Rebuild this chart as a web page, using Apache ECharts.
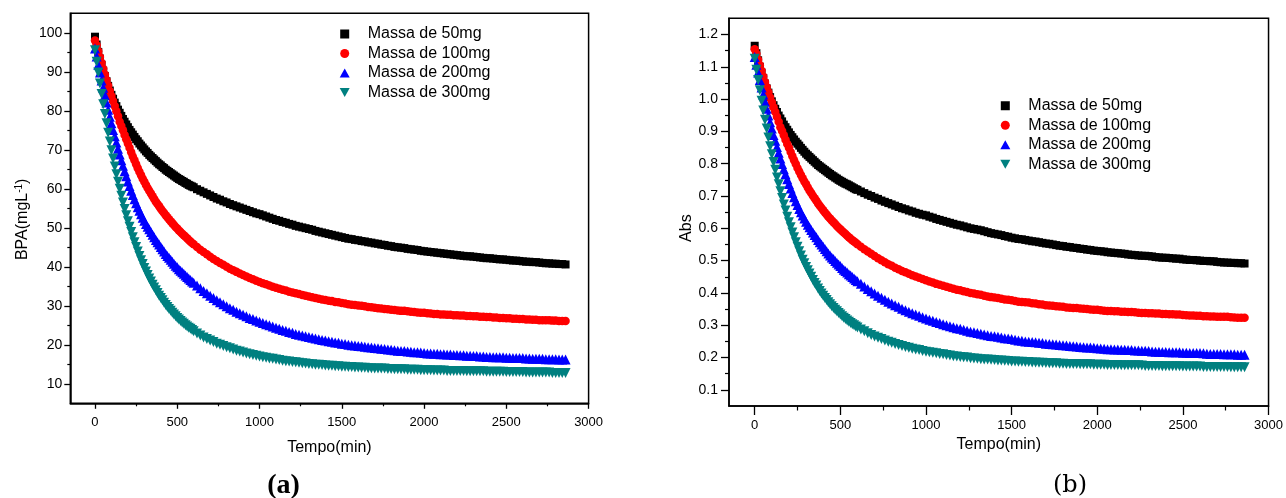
<!DOCTYPE html>
<html><head><meta charset="utf-8">
<script src="https://cdn.jsdelivr.net/npm/echarts@6/dist/echarts.min.js"></script>
<style>html,body{margin:0;padding:0;background:#fff}#c{width:1286px;height:498px}</style>
</head><body><div id="c"></div>
<script>
const time = [0,10,20,30,40,50,60,70,80,90,100,110,120,130,140,150,160,170,180,190,200,
210,220,230,240,250,260,270,280,290,300,310,320,330,340,350,360,370,380,390,400,
410,420,430,440,450,460,470,480,490,500,510,520,530,540,550,560,570,580,590,600,
620,640,660,680,700,720,740,760,780,800,820,840,860,880,900,920,940,960,980,1000,
1020,1040,1060,1080,1100,1120,1140,1160,1180,1200,
1220,1240,1260,1280,1300,1320,1340,1360,1380,1400,
1420,1440,1460,1480,1500,1520,1540,1560,1580,1600,
1620,1640,1660,1680,1700,1720,1740,1760,1780,1800,
1820,1840,1860,1880,1900,1920,1940,1960,1980,2000,
2020,2040,2060,2080,2100,2120,2140,2160,2180,2200,
2220,2240,2260,2280,2300,2320,2340,2360,2380,2400,
2420,2440,2460,2480,2500,2520,2540,2560,2580,2600,
2620,2640,2660,2680,2700,2720,2740,2760,2780,2800,
2820,2840,2860];

const seriesNames = ['Massa de 50mg','Massa de 100mg','Massa de 200mg','Massa de 300mg'];

// (a) BPA (mg L-1)
const bpa50 = [99.0,97.0,95.1,93.4,91.8,90.3,88.9,87.6,86.4,85.2,84.1,83.1,82.1,81.2,80.3,79.5,78.7,77.9,77.2,76.5,75.8,
75.1,74.5,73.9,73.3,72.7,72.2,71.6,71.1,70.6,70.1,69.6,69.2,68.7,68.3,67.9,67.5,67.1,66.7,66.3,66.0,
65.6,65.3,64.9,64.6,64.3,64.0,63.7,63.4,63.1,62.8,62.5,62.3,62.0,61.8,61.5,61.3,61.0,60.8,60.6,60.4,
59.9,59.5,59.1,58.7,58.3,57.9,57.5,57.2,56.8,56.5,56.1,55.8,55.5,55.2,54.9,54.6,54.3,54.0,53.7,53.5,
53.2,52.9,52.6,52.3,52.0,51.8,51.5,51.3,51.0,50.8,
50.5,50.3,50.1,49.9,49.7,49.5,49.2,49.0,48.8,48.6,
48.4,48.2,48.0,47.8,47.6,47.4,47.2,47.1,46.9,46.8,
46.6,46.5,46.3,46.2,46.0,45.9,45.7,45.6,45.4,45.3,
45.1,45.0,44.9,44.8,44.6,44.5,44.4,44.3,44.1,44.0,
43.9,43.8,43.7,43.6,43.5,43.4,43.3,43.2,43.1,43.0,
42.9,42.8,42.7,42.7,42.6,42.5,42.4,42.3,42.2,42.2,
42.1,42.0,41.9,41.9,41.8,41.7,41.6,41.6,41.5,41.4,
41.3,41.3,41.2,41.2,41.1,41.0,40.9,40.9,40.8,40.8,
40.7,40.7,40.6];
const bpa100 = [98.0,96.8,95.3,93.8,92.3,90.8,89.3,87.9,86.5,85.1,83.8,82.5,81.2,79.9,78.6,77.2,76.1,75.0,73.8,72.7,71.6,
70.5,69.4,68.3,67.3,66.3,65.3,64.4,63.5,62.6,61.8,61.0,60.2,59.5,58.8,58.1,57.4,56.7,56.1,55.5,54.9,
54.3,53.8,53.2,52.7,52.2,51.7,51.2,50.7,50.2,49.8,49.3,48.9,48.5,48.1,47.7,47.3,46.9,46.5,46.1,45.8,
45.1,44.4,43.8,43.2,42.6,42.0,41.5,41.0,40.5,40.0,39.5,39.1,38.7,38.3,37.9,37.5,37.1,36.8,36.4,36.1,
35.8,35.5,35.2,34.9,34.6,34.4,34.1,33.9,33.6,33.4,
33.2,33.0,32.8,32.6,32.4,32.2,32.0,31.8,31.6,31.5,
31.3,31.2,31.0,30.9,30.7,30.6,30.4,30.3,30.2,30.1,
30.0,29.9,29.7,29.6,29.5,29.4,29.3,29.2,29.1,29.0,
28.9,28.8,28.7,28.7,28.6,28.5,28.4,28.3,28.2,28.2,
28.1,28.0,27.9,27.9,27.8,27.8,27.7,27.7,27.6,27.6,
27.5,27.5,27.4,27.4,27.3,27.3,27.2,27.2,27.1,27.1,
27.0,27.0,26.9,26.9,26.8,26.8,26.7,26.7,26.6,26.6,
26.5,26.5,26.4,26.4,26.3,26.3,26.3,26.3,26.2,26.2,
26.1,26.1,26.1];
const bpa200 = [96.0,93.9,91.8,89.8,87.8,85.9,84.0,82.1,80.3,78.5,76.8,75.1,73.5,71.9,70.3,68.8,67.3,65.9,64.5,63.2,61.9,
60.7,59.5,58.4,57.3,56.3,55.3,54.4,53.5,52.6,51.8,51.0,50.3,49.6,48.9,48.2,47.6,46.9,46.3,45.7,45.1,
44.5,43.9,43.3,42.8,42.3,41.8,41.3,40.8,40.3,39.9,39.4,39.0,38.6,38.2,37.8,37.4,37.0,36.6,36.2,35.9,
35.2,34.5,33.8,33.2,32.6,32.0,31.4,30.9,30.4,29.9,29.4,29.0,28.5,28.1,27.7,27.3,26.9,26.6,26.2,25.9,
25.6,25.3,25.0,24.7,24.4,24.1,23.8,23.6,23.3,23.1,
22.8,22.6,22.4,22.2,22.0,21.8,21.6,21.4,21.2,21.1,
20.9,20.8,20.6,20.5,20.3,20.2,20.0,19.9,19.8,19.7,
19.6,19.5,19.4,19.3,19.2,19.1,19.0,18.9,18.8,18.7,
18.6,18.5,18.4,18.4,18.3,18.2,18.1,18.1,18.0,17.9,
17.8,17.8,17.7,17.7,17.6,17.6,17.5,17.5,17.4,17.4,
17.3,17.3,17.2,17.2,17.1,17.1,17.0,17.0,16.9,16.9,
16.8,16.8,16.8,16.8,16.7,16.7,16.6,16.6,16.6,16.6,
16.5,16.5,16.4,16.4,16.4,16.4,16.3,16.3,16.3,16.3,
16.2,16.2,16.2];
const bpa300 = [95.5,92.6,89.8,87.0,84.3,81.7,79.2,76.8,74.4,72.1,69.9,67.8,65.7,63.7,61.8,60.0,58.2,56.5,54.8,53.2,51.7,
50.3,48.9,47.6,46.3,45.1,43.9,42.8,41.7,40.7,39.7,38.8,37.9,37.0,36.2,35.4,34.7,34.0,33.3,32.6,32.0,
31.4,30.8,30.2,29.7,29.2,28.7,28.2,27.8,27.3,26.9,26.5,26.1,25.7,25.4,25.0,24.7,24.4,24.1,23.8,23.5,
22.9,22.4,21.9,21.5,21.1,20.7,20.3,20.0,19.7,19.4,19.1,18.8,18.5,18.3,18.0,17.8,17.6,17.4,17.2,17.0,
16.8,16.7,16.5,16.4,16.2,16.1,15.9,15.8,15.7,15.6,
15.5,15.4,15.3,15.2,15.1,15.0,14.9,14.9,14.8,14.7,
14.6,14.6,14.5,14.5,14.4,14.4,14.3,14.3,14.2,14.2,
14.1,14.1,14.0,14.0,13.9,13.9,13.9,13.9,13.8,13.8,
13.7,13.7,13.7,13.7,13.6,13.6,13.6,13.6,13.5,13.5,
13.5,13.5,13.4,13.4,13.4,13.4,13.3,13.3,13.3,13.3,
13.3,13.3,13.2,13.2,13.2,13.2,13.2,13.2,13.1,13.1,
13.1,13.1,13.1,13.1,13.0,13.0,13.0,13.0,13.0,13.0,
12.9,12.9,12.9,12.9,12.9,12.9,12.9,12.9,12.8,12.8,
12.8,12.8,12.8];

// (b) Abs
const abs50 = [1.165,1.142,1.120,1.100,1.082,1.065,1.048,1.033,1.020,1.006,0.993,0.981,0.970,0.960,0.949,0.940,0.931,0.921,0.913,0.905,0.897,
0.889,0.882,0.875,0.868,0.862,0.856,0.849,0.843,0.837,0.831,0.826,0.821,0.816,0.811,0.806,0.801,0.796,0.792,0.788,0.784,
0.780,0.776,0.772,0.768,0.764,0.761,0.757,0.754,0.750,0.747,0.744,0.741,0.738,0.736,0.733,0.730,0.727,0.724,0.721,0.719,
0.714,0.709,0.704,0.700,0.695,0.691,0.686,0.682,0.678,0.674,0.670,0.666,0.662,0.659,0.655,0.652,0.648,0.645,0.642,0.640,
0.636,0.633,0.629,0.626,0.623,0.620,0.617,0.614,0.611,0.609,
0.606,0.603,0.600,0.598,0.596,0.594,0.591,0.588,0.585,0.583,
0.581,0.579,0.576,0.574,0.571,0.569,0.567,0.566,0.564,0.562,
0.560,0.559,0.557,0.555,0.553,0.552,0.550,0.548,0.546,0.545,
0.543,0.542,0.540,0.539,0.537,0.536,0.534,0.533,0.531,0.530,
0.529,0.528,0.526,0.525,0.524,0.523,0.522,0.521,0.519,0.518,
0.517,0.516,0.515,0.515,0.514,0.513,0.511,0.510,0.509,0.509,
0.508,0.507,0.506,0.506,0.504,0.503,0.502,0.502,0.501,0.500,
0.499,0.499,0.498,0.498,0.496,0.495,0.494,0.494,0.493,0.493,
0.492,0.492,0.491];
const abs100 = [1.154,1.140,1.122,1.105,1.088,1.070,1.053,1.037,1.021,1.005,0.990,0.975,0.960,0.945,0.930,0.913,0.901,0.888,0.874,0.861,0.849,
0.836,0.823,0.811,0.799,0.787,0.776,0.765,0.755,0.745,0.736,0.726,0.717,0.709,0.701,0.693,0.685,0.677,0.670,0.663,0.656,
0.649,0.643,0.636,0.630,0.624,0.619,0.613,0.607,0.602,0.597,0.592,0.587,0.582,0.577,0.572,0.568,0.563,0.559,0.555,0.551,
0.543,0.535,0.528,0.521,0.514,0.507,0.501,0.495,0.489,0.484,0.478,0.473,0.468,0.464,0.459,0.455,0.451,0.447,0.443,0.439,
0.435,0.432,0.428,0.425,0.422,0.419,0.416,0.413,0.410,0.408,
0.405,0.403,0.400,0.398,0.396,0.394,0.391,0.389,0.387,0.386,
0.384,0.382,0.380,0.379,0.377,0.375,0.373,0.372,0.371,0.370,
0.368,0.367,0.365,0.364,0.362,0.361,0.360,0.359,0.358,0.357,
0.355,0.354,0.353,0.353,0.352,0.351,0.350,0.349,0.348,0.348,
0.346,0.345,0.344,0.344,0.343,0.343,0.342,0.342,0.341,0.341,
0.340,0.339,0.338,0.338,0.337,0.337,0.336,0.336,0.335,0.335,
0.334,0.334,0.333,0.333,0.332,0.331,0.330,0.330,0.329,0.329,
0.328,0.328,0.327,0.327,0.326,0.326,0.326,0.326,0.325,0.324,
0.323,0.323,0.323];
const abs200 = [1.130,1.106,1.082,1.059,1.036,1.014,0.992,0.970,0.949,0.928,0.909,0.889,0.871,0.852,0.834,0.816,0.799,0.783,0.767,0.752,0.737,
0.723,0.709,0.696,0.684,0.672,0.660,0.650,0.640,0.630,0.620,0.611,0.603,0.595,0.587,0.579,0.572,0.564,0.557,0.550,0.543,
0.536,0.529,0.522,0.516,0.510,0.505,0.499,0.493,0.488,0.483,0.477,0.472,0.468,0.463,0.458,0.454,0.449,0.445,0.440,0.436,
0.428,0.420,0.412,0.405,0.398,0.391,0.385,0.379,0.373,0.367,0.362,0.357,0.351,0.346,0.342,0.337,0.333,0.329,0.325,0.321,
0.317,0.314,0.310,0.307,0.303,0.300,0.297,0.294,0.291,0.289,
0.286,0.283,0.280,0.278,0.276,0.274,0.271,0.269,0.267,0.266,
0.264,0.262,0.260,0.259,0.257,0.255,0.253,0.252,0.250,0.249,
0.248,0.247,0.246,0.245,0.243,0.242,0.241,0.240,0.239,0.238,
0.237,0.236,0.235,0.234,0.233,0.232,0.231,0.231,0.230,0.229,
0.228,0.227,0.226,0.226,0.225,0.225,0.224,0.224,0.223,0.223,
0.222,0.222,0.221,0.221,0.220,0.219,0.218,0.218,0.217,0.217,
0.216,0.216,0.216,0.216,0.215,0.215,0.214,0.214,0.214,0.214,
0.213,0.212,0.211,0.211,0.211,0.211,0.210,0.210,0.210,0.210,
0.209,0.209,0.209];
const abs300 = [1.125,1.091,1.059,1.027,0.995,0.965,0.936,0.909,0.881,0.854,0.829,0.805,0.781,0.757,0.736,0.715,0.694,0.674,0.655,0.636,0.619,
0.603,0.587,0.572,0.557,0.543,0.529,0.516,0.503,0.492,0.480,0.470,0.460,0.450,0.440,0.431,0.423,0.414,0.406,0.398,0.391,
0.384,0.378,0.371,0.365,0.359,0.353,0.348,0.343,0.338,0.333,0.328,0.323,0.319,0.315,0.311,0.307,0.303,0.300,0.296,0.293,
0.287,0.281,0.275,0.270,0.265,0.261,0.257,0.253,0.249,0.246,0.242,0.239,0.236,0.233,0.230,0.227,0.225,0.223,0.220,0.218,
0.216,0.215,0.213,0.211,0.210,0.208,0.206,0.204,0.203,0.202,
0.201,0.200,0.198,0.197,0.196,0.195,0.194,0.194,0.193,0.192,
0.191,0.191,0.190,0.189,0.188,0.188,0.187,0.187,0.186,0.186,
0.185,0.185,0.184,0.184,0.183,0.182,0.182,0.182,0.181,0.181,
0.180,0.180,0.180,0.180,0.179,0.179,0.179,0.179,0.178,0.178,
0.178,0.178,0.177,0.177,0.177,0.177,0.176,0.176,0.176,0.176,
0.176,0.176,0.175,0.174,0.174,0.174,0.174,0.174,0.173,0.173,
0.173,0.173,0.173,0.173,0.172,0.172,0.172,0.172,0.172,0.172,
0.171,0.171,0.171,0.171,0.171,0.171,0.171,0.171,0.170,0.170,
0.170,0.170,0.170];

const xTicks = [0,500,1000,1500,2000,2500,3000];
const xMinorTicks = [250,750,1250,1750,2250,2750];
const bpaTicks = [10,20,30,40,50,60,70,80,90,100];
const bpaMinorTicks = [15,25,35,45,55,65,75,85,95];
const absTicks = [0.1,0.2,0.3,0.4,0.5,0.6,0.7,0.8,0.9,1.0,1.1,1.2];
const absMinorTicks = [0.15,0.25,0.35,0.45,0.55,0.65,0.75,0.85,0.95,1.05,1.15];

const F = "'Liberation Sans', Arial, sans-serif";
const colors = ['#000000','#ff0000','#0000ff','#008080'];
const symbols = ['rect','circle','triangle','triangle'];
const symbolSizes = [8,8.5,10,10];
const rotations = [0,0,0,180];
const legendIcons = ['path://M0,0L10,0L10,10L0,10Z','path://M5,0A5,5,0,1,1,5,10A5,5,0,1,1,5,0Z','path://M5,0L10,9L0,9Z','path://M0,0L10,0L5,9Z'];

function pairs(vals){ return time.map((t,i)=>[t, vals[i]]); }

function xAxisMain(grid, tickLen, margin, nameGap){
  return {type:'value', gridIndex:grid, position:'bottom', min:-150, max:3000,
    name:'Tempo(min)', nameLocation:'middle', nameGap:nameGap,
    nameTextStyle:{fontSize:16, color:'#000', fontFamily:F},
    axisLine:{show:true, onZero:false, lineStyle:{color:'#000', width:1.5}},
    axisTick:{show:true, customValues:xTicks, length:tickLen, lineStyle:{color:'#000', width:1.3}},
    axisLabel:{show:true, customValues:xTicks, margin:margin, fontSize:13, color:'#000', fontFamily:F, formatter:v => String(v)},
    splitLine:{show:false}};
}
function xAxisMinor(grid, tickLen){
  return {type:'value', gridIndex:grid, position:'bottom', min:-150, max:3000,
    axisLine:{show:false, onZero:false}, axisLabel:{show:false}, splitLine:{show:false},
    axisTick:{show:true, customValues:xMinorTicks, length:tickLen, lineStyle:{color:'#000', width:1.2}}};
}
function yAxisMain(grid, min, max, ticks, fmt, tickLen, margin, name, nameGap, pad){
  return {type:'value', gridIndex:grid, position:'left', min:min, max:max,
    name:name, nameLocation:'middle', nameGap:nameGap,
    nameTextStyle:{fontSize:16, color:'#000', fontFamily:F, padding:pad,
      rich:{sup:{fontSize:10, color:'#000', fontFamily:F, verticalAlign:'top', lineHeight:10}}},
    axisLine:{show:true, onZero:false, lineStyle:{color:'#000', width:1.5}},
    axisTick:{show:true, customValues:ticks, length:tickLen, lineStyle:{color:'#000', width:1.3}},
    axisLabel:{show:true, customValues:ticks, margin:margin, fontSize:14, color:'#000', fontFamily:F, formatter:fmt},
    splitLine:{show:false}};
}
function yAxisMinor(grid, min, max, ticks, tickLen){
  return {type:'value', gridIndex:grid, position:'left', min:min, max:max,
    axisLine:{show:false, onZero:false}, axisLabel:{show:false}, splitLine:{show:false},
    axisTick:{show:true, customValues:ticks, length:tickLen, lineStyle:{color:'#000', width:1.2}}};
}

const bpaData = [bpa50, bpa100, bpa200, bpa300];
const absData = [abs50, abs100, abs200, abs300];
const series = [];
[bpaData, absData].forEach((set, g) => {
  set.forEach((vals, i) => {
    series.push({type:'scatter', name:seriesNames[i], xAxisIndex:g*2, yAxisIndex:g*2,
      data:pairs(vals), symbol:symbols[i], symbolSize:symbolSizes[i], symbolRotate:rotations[i],
      itemStyle:{color:colors[i], opacity:1}, emphasis:{disabled:true}, silent:true});
  });
});

function legend(left, top){
  return {orient:'vertical', left:left, top:top, padding:0, itemGap:0, itemWidth:36, itemHeight:9,
    selectedMode:false,
    textStyle:{fontSize:16, lineHeight:19.5, color:'#000', fontFamily:F},
    data: seriesNames.map((n,i)=>({name:n, icon:legendIcons[i]}))};
}

const chart = echarts.init(document.getElementById('c'), null, {renderer:'canvas'});
chart.setOption({
  animation:false,
  backgroundColor:'#fff',
  grid:[
    {left:70.3, top:13.3, width:518.3, height:390, show:true, borderColor:'#000', borderWidth:1.5, backgroundColor:'rgba(0,0,0,0)'},
    {left:729, top:18.3, width:540, height:387.7, show:true, borderColor:'#000', borderWidth:1.5, backgroundColor:'rgba(0,0,0,0)'}
  ],
  xAxis:[ xAxisMain(0, 5.5, 13, 36), xAxisMinor(0, 3), xAxisMain(1, 9, 13, 30), xAxisMinor(1, 4.5) ],
  yAxis:[
    yAxisMain(0, 5, 105, bpaTicks, v => String(v), 6, 8, 'BPA(mgL{sup|-1})', 40, [0,22,0,0]),
    yAxisMinor(0, 5, 105, bpaMinorTicks, 3),
    yAxisMain(1, 0.05, 1.25, absTicks, v => Number(v).toFixed(1), 8, 11, 'Abs', 33, [0,32,0,0]),
    yAxisMinor(1, 0.05, 1.25, absMinorTicks, 4)
  ],
  legend:[ legend(339.7, 24.25), legend(1000.3, 96) ],
  series:series,
  graphic:[
    {type:'text', x:283.5, y:486, style:{text:'(a)', font:'bold 28px "Liberation Serif", "Times New Roman", serif', fill:'#000', align:'center', verticalAlign:'middle', textAlign:'center', textVerticalAlign:'middle'}},
    {type:'text', x:1070, y:486, style:{text:'(b)', font:'24px "DejaVu Serif", serif', fill:'#000', align:'center', verticalAlign:'middle', textAlign:'center', textVerticalAlign:'middle'}}
  ]
});
</script>
</body></html>
